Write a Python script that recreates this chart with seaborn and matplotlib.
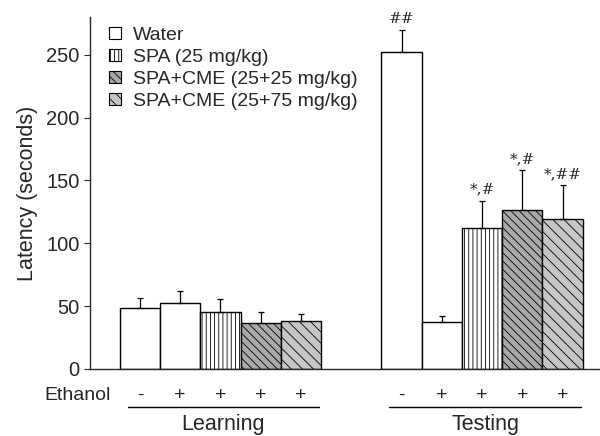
import numpy as np
import pandas as pd
import matplotlib.pyplot as plt
import matplotlib.transforms as mtransforms
from matplotlib.patches import Patch
import seaborn as sns

# --- data ---
phases = ["Learning", "Testing"]
groups = ["Water", "Water", "SPA", "SPA+CME25", "SPA+CME75"]
ethanol = ["-", "+", "+", "+", "+"]
learning_mean = [48.7, 52.7, 45.5, 36.6, 38.0]
learning_sem = [8.0, 9.0, 10.0, 9.0, 6.0]
testing_mean = [252.5, 37.0, 112.0, 126.5, 119.0]
testing_sem = [17.0, 5.0, 22.0, 32.0, 27.0]
testing_marks = ["##", "", "*,#", "*,#", "*,##"]
legend_names = ["Water", "SPA", "SPA+CME25", "SPA+CME75"]
legend_labels = ["Water", "SPA (25 mg/kg)", "SPA+CME (25+25 mg/kg)", "SPA+CME (25+75 mg/kg)"]
y_ticks = [0, 50, 100, 150, 200, 250]

styles = {
    "Water": ("white", ""),
    "SPA": ("white", "||||"),
    "SPA+CME25": ("#a9a9a9", "\\\\\\\\"),
    "SPA+CME75": ("#c6c6c6", "\\\\\\"),
}

gap = 6.5  # offset of the second phase
rows = []
for p, (means, sems) in enumerate([(learning_mean, learning_sem), (testing_mean, testing_sem)]):
    for i, g in enumerate(groups):
        rows.append({"pos": i + p * gap, "latency": means[i], "sem": sems[i],
                     "group": g, "phase": phases[p], "ethanol": ethanol[i]})
df = pd.DataFrame(rows)

sns.set_style("ticks")
plt.rcParams['font.family'] = ['Liberation Sans', 'DejaVu Sans']
plt.rcParams['hatch.linewidth'] = 0.6

fig = plt.figure(figsize=(6, 4.36), dpi=100)
ax = fig.add_axes([0.15, 0.1537, 0.85, 0.8073])

sns.barplot(data=df, x="pos", y="latency", native_scale=True, width=1.0,
            color="white", edgecolor="black", linewidth=1.0, errorbar=None, ax=ax)
for patch, g in zip(ax.patches, df["group"]):
    fc, h = styles[g]
    patch.set_facecolor(fc)
    patch.set_hatch(h)

ax.errorbar(df["pos"], df["latency"], yerr=[np.zeros(len(df)), df["sem"]],
            fmt="none", ecolor="black", elinewidth=0.9, capsize=2, capthick=0.9)

# significance marks
test = df[df["phase"] == "Testing"].reset_index(drop=True)
for k, m in enumerate(testing_marks):
    if m:
        ax.text(test.loc[k, "pos"], test.loc[k, "latency"] + test.loc[k, "sem"] + 3, m,
                ha="center", va="bottom", fontsize=11, family="DejaVu Serif")

ax.set_xlim(-1.24, 11.43)
ax.set_ylim(0, 280)
ax.set_yticks(y_ticks)
ax.tick_params(axis="y", labelsize=14.5, length=4, width=0.8, direction="out")
ax.tick_params(axis="x", bottom=False, labelbottom=False)
ax.set_xlabel("")
ax.set_ylabel("Latency (seconds)", fontsize=15.5, labelpad=6)
sns.despine(ax=ax)
ax.spines["left"].set_linewidth(1.0)
ax.spines["bottom"].set_linewidth(1.0)

# ethanol row, underlines, phase labels
trans = mtransforms.blended_transform_factory(ax.transData, ax.transAxes)
ax.text(-0.72, -0.074, "Ethanol", transform=trans, ha="right", va="center", fontsize=14)
for _, r in df.iterrows():
    ax.text(r["pos"], -0.074, r["ethanol"], transform=trans, ha="center", va="center", fontsize=14)
for start, end, name in [(-0.3, 4.45, phases[0]), (6.2, 10.95, phases[1])]:
    ax.plot([start, end], [-0.108, -0.108], transform=trans, color="black", lw=1.0, clip_on=False)
    ax.text((start + end) / 2, -0.128, name, transform=trans, ha="center", va="top", fontsize=15.5)

handles = [Patch(facecolor=styles[n][0], hatch=styles[n][1], edgecolor="black", lw=0.8)
           for n in legend_names]
ax.legend(handles, legend_labels, loc="upper left", bbox_to_anchor=(0.038, 0.972),
          frameon=False, fontsize=14, handlelength=0.6, handleheight=0.6,
          handletextpad=0.6, labelspacing=0.25, borderpad=0, borderaxespad=0)

plt.savefig("out.png", dpi=100)
plt.close()
